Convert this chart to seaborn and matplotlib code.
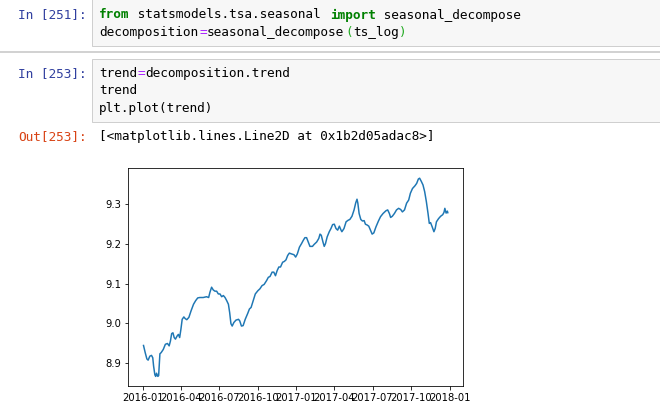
import numpy as np
import pandas as pd
import matplotlib
matplotlib.use("Agg")
import matplotlib.pyplot as plt
import matplotlib.dates as mdates
from matplotlib.patches import Rectangle
import seaborn as sns

# ---- data (trend of log series) ----
day_offsets = [2, 6, 10, 13, 17, 21, 24, 26, 29, 31, 33, 36, 38, 41, 44, 49, 54, 59, 63, 66,
               69, 72, 75, 78, 82, 85, 88, 91, 94, 98, 101, 105, 110, 115, 121, 126, 131, 136,
               144, 152, 157, 160, 164, 168, 172, 176, 180, 184, 188, 192, 196, 200, 204, 207,
               210, 213, 217, 222, 228, 231, 235, 239, 244, 250, 254, 258, 263, 268, 274, 279,
               284, 289, 295, 299, 303, 308, 312, 316, 320, 324, 328, 333, 337, 341, 345, 349,
               354, 360, 364, 368, 373, 378, 382, 386, 390, 394, 398, 404, 408, 414, 419, 422,
               425, 429, 432, 435, 439, 444, 448, 452, 456, 460, 464, 468, 472, 474, 479, 484,
               489, 493, 498, 503, 507, 510, 512, 515, 519, 523, 527, 530, 534, 538, 542, 546,
               550, 555, 561, 566, 572, 579, 583, 587, 590, 594, 599, 604, 609, 614, 618, 623,
               628, 633, 637, 642, 648, 652, 656, 659, 663, 667, 671, 675, 679, 682, 685, 689,
               693, 696, 699, 704, 709, 714, 717, 719, 722, 725, 726]
trend_values = [8.944, 8.926, 8.910, 8.907, 8.917, 8.919, 8.913, 8.892, 8.870, 8.866, 8.874,
                8.866, 8.868, 8.923, 8.926, 8.934, 8.947, 8.949, 8.943, 8.955, 8.974, 8.976,
                8.964, 8.960, 8.968, 8.972, 8.964, 8.985, 9.010, 9.016, 9.012, 9.009, 9.015,
                9.031, 9.048, 9.057, 9.064, 9.065, 9.065, 9.067, 9.065, 9.078, 9.091, 9.084,
                9.081, 9.081, 9.074, 9.074, 9.067, 9.070, 9.065, 9.057, 9.048, 9.027, 8.999,
                8.993, 9.002, 9.008, 9.010, 9.006, 8.993, 8.994, 9.010, 9.025, 9.036, 9.040,
                9.057, 9.074, 9.082, 9.087, 9.095, 9.098, 9.108, 9.116, 9.118, 9.129, 9.129,
                9.120, 9.133, 9.142, 9.142, 9.154, 9.156, 9.160, 9.171, 9.177, 9.175, 9.173,
                9.167, 9.175, 9.192, 9.201, 9.209, 9.216, 9.216, 9.205, 9.194, 9.194, 9.199,
                9.205, 9.214, 9.225, 9.222, 9.205, 9.194, 9.201, 9.218, 9.231, 9.239, 9.249,
                9.250, 9.239, 9.235, 9.245, 9.235, 9.231, 9.239, 9.256, 9.260, 9.262, 9.270,
                9.286, 9.304, 9.313, 9.303, 9.277, 9.262, 9.258, 9.259, 9.250, 9.248, 9.245,
                9.235, 9.225, 9.228, 9.243, 9.258, 9.269, 9.277, 9.284, 9.286, 9.277, 9.267,
                9.270, 9.277, 9.286, 9.290, 9.287, 9.281, 9.286, 9.303, 9.311, 9.328, 9.340,
                9.347, 9.353, 9.364, 9.366, 9.358, 9.349, 9.332, 9.307, 9.277, 9.252, 9.254,
                9.243, 9.231, 9.239, 9.256, 9.264, 9.270, 9.274, 9.280, 9.290, 9.278, 9.283,
                9.279]
start_date = "2016-01-01"

# ---- notebook text ----
cell1_lines = [
    [("from", "kw"), (" statsmodels.tsa.seasonal ", "n"), ("import", "kw"), (" seasonal_decompose", "n")],
    [("decomposition", "n"), ("=", "op"), ("seasonal_decompose", "n"), ("(", "br"), ("ts_log", "n"), (")", "br")],
]
cell2_lines = [
    [("trend", "n"), ("=", "op"), ("decomposition.trend", "n")],
    [("trend", "n")],
    [("plt.plot(trend)", "n")],
]
prompt1 = "In [251]:"
prompt2 = "In [253]:"
prompt_out = "Out[253]:"
out_text = "[<matplotlib.lines.Line2D at 0x1b2d05adac8>]"

W, H = 660, 415
fig = plt.figure(figsize=(W / 72, H / 72), dpi=72)
fig.patch.set_facecolor("white")

def fx(x):
    return x / W

def fy(y):
    return 1 - y / H

MONO = ["DejaVu Sans Mono"]
FS = 12.76
CW = 7.68
colors = {"kw": "#008000", "n": "#000000", "op": "#AA22FF", "br": "#22AA22"}

def code_line(tokens, x0, y):
    col = 0
    for txt, kind in tokens:
        fig.text(fx(x0 + col * CW), fy(y), txt, family=MONO, fontsize=FS,
                 color=colors[kind], fontweight="bold" if kind == "kw" else "normal",
                 va="center", ha="left")
        col += len(txt)

# cell boxes
fig.add_artist(Rectangle((fx(92.3), fy(45.5)), fx(700) - fx(92.3), fy(-10) - fy(45.5),
                         transform=fig.transFigure, facecolor="#f7f7f7",
                         edgecolor="#cfcfcf", linewidth=1))
fig.add_artist(Rectangle((fx(92.3), fy(121.5)), fx(700) - fx(92.3), fy(59.5) - fy(121.5),
                         transform=fig.transFigure, facecolor="#f7f7f7",
                         edgecolor="#cfcfcf", linewidth=1))
# separator
fig.add_artist(plt.Line2D([0, 1], [fy(52.3), fy(52.3)], transform=fig.transFigure,
                          color="#c8c8c8", linewidth=1.6))

x_code = 99.3
for i, line in enumerate(cell1_lines):
    code_line(line, x_code, 15 + i * 17.5)
for i, line in enumerate(cell2_lines):
    code_line(line, x_code, 73.3 + i * 17.5)

fig.text(fx(86.5), fy(15), prompt1, family=MONO, fontsize=FS, color="#303F9F", ha="right", va="center")
fig.text(fx(86.5), fy(73.3), prompt2, family=MONO, fontsize=FS, color="#303F9F", ha="right", va="center")
fig.text(fx(86.5), fy(136.7), prompt_out, family=MONO, fontsize=FS, color="#D84315", ha="right", va="center")
fig.text(fx(x_code), fy(136.7), out_text, family=MONO, fontsize=FS, color="#000000", ha="left", va="center")

# ---- chart ----
left, right, top, bottom = 128.3, 463.0, 168.3, 386.3
ax = fig.add_axes([fx(left), fy(bottom), (right - left) / W, (bottom - top) / H])
dates = pd.Timestamp(start_date) + pd.to_timedelta(day_offsets, unit="D")
df = pd.DataFrame({"date": dates, "trend": trend_values})
sns.lineplot(data=df, x="date", y="trend", ax=ax, color="#1f77b4", linewidth=1.5)
ax.set_xlabel("")
ax.set_ylabel("")
ax.xaxis.set_major_locator(mdates.MonthLocator(bymonth=[1, 4, 7, 10]))
ax.xaxis.set_major_formatter(mdates.DateFormatter("%Y-%m"))
ax.set_yticks([8.9, 9.0, 9.1, 9.2, 9.3])
ax.tick_params(labelsize=10, length=3.5, width=0.8, colors="#000000")
for s in ax.spines.values():
    s.set_linewidth(0.8)
    s.set_color("#000000")
ax.grid(False)
ax.set_facecolor("white")

fig.savefig("out.png", dpi=72)
